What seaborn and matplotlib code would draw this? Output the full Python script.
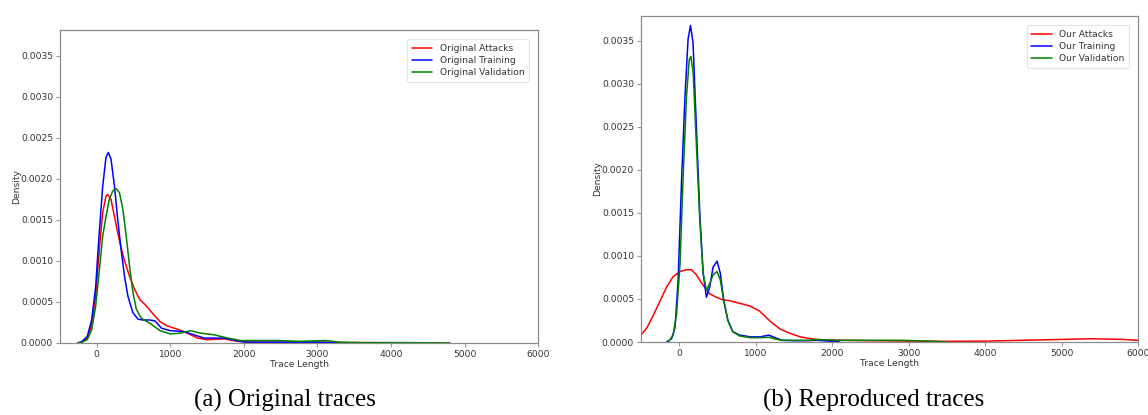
import matplotlib
matplotlib.use("Agg")
import matplotlib.pyplot as plt
import seaborn as sns

# Density of trace lengths, original dataset
orig_attacks_x = [-260, -200, -130, -70, -15, 30, 80, 125, 147, 193, 240, 285, 330, 377,
                  446, 515, 584, 676, 768, 860, 952, 1090, 1230, 1370, 1500, 1730, 1920,
                  2100, 2500, 3000, 3500, 4000, 4800]
orig_attacks_y = [0, 0.00001, 0.00006, 0.00022, 0.00057, 0.0011, 0.00159, 0.00179, 0.00181,
                  0.00175, 0.00154, 0.00134, 0.00116, 0.001, 0.00081, 0.00065, 0.00053,
                  0.00045, 0.00035, 0.00026, 0.00021, 0.00017, 0.00012, 0.00006, 0.00004,
                  0.00005, 0.00002, 0.00001, 0.00001, 0.00001, 0.000005, 0.000003, 0]

orig_training_x = [-260, -200, -130, -70, -15, 30, 80, 125, 156, 193, 240, 285, 330, 377,
                   423, 490, 560, 630, 720, 790, 880, 1000, 1180, 1320, 1460, 1730, 2010,
                   2500, 3000, 3300]
orig_training_y = [0, 0.00002, 0.00008, 0.00028, 0.00069, 0.0013, 0.00191, 0.00226, 0.00232,
                   0.00224, 0.00191, 0.0015, 0.00114, 0.00081, 0.00057, 0.00037, 0.00029,
                   0.00028, 0.00028, 0.00027, 0.00018, 0.00015, 0.00014, 0.0001, 0.00006,
                   0.00006, 0.00001, 0.00001, 0.00001, 0]

orig_validation_x = [-250, -200, -130, -70, -15, 30, 80, 125, 170, 216, 262, 308, 354, 400,
                     446, 492, 538, 607, 722, 860, 1000, 1136, 1274, 1412, 1595, 1780, 1960,
                     2200, 2470, 2750, 3110, 3300, 3600, 4200, 4800]
orig_validation_y = [0, 0.00001, 0.00004, 0.00016, 0.00045, 0.00085, 0.0013, 0.00154, 0.00175,
                     0.00185, 0.00188, 0.00183, 0.00163, 0.0013, 0.00093, 0.00061, 0.00041,
                     0.0003, 0.00024, 0.00015, 0.00011, 0.00012, 0.00015, 0.00012, 0.0001,
                     0.00006, 0.00003, 0.00003, 0.00003, 0.00002, 0.00003, 0.00001, 0.000005,
                     0.000005, 0]

# Density of trace lengths, reproduced dataset
our_attacks_x = [-500, -420, -340, -250, -165, -80, 10, 95, 160, 225, 310, 400, 485, 570,
                 660, 790, 920, 1050, 1190, 1320, 1450, 1580, 1710, 1840, 2100, 2500, 3000,
                 3500, 4000, 4500, 5000, 5400, 5800, 6000]
our_attacks_y = [0.00008, 0.00017, 0.00031, 0.00048, 0.00064, 0.00076, 0.00082, 0.00084,
                 0.00084, 0.00078, 0.00066, 0.00056, 0.00052, 0.00049, 0.00048, 0.00045,
                 0.00042, 0.00036, 0.00024, 0.00015, 0.0001, 0.00006, 0.00004, 0.000027,
                 0.00002, 0.000015, 0.00001, 0.000008, 0.00001, 0.00002, 0.00003, 0.000038,
                 0.00003, 0.00002]

our_training_x = [-165, -100, -55, -15, 30, 75, 115, 147, 180, 225, 268, 312, 355, 398, 442,
                  494, 537, 580, 636, 700, 790, 930, 1060, 1170, 1255, 1340, 1500, 1670, 1800,
                  1950, 2100]
our_training_y = [0, 0.00004, 0.00017, 0.00072, 0.00188, 0.00286, 0.00352, 0.00368, 0.00348,
                  0.00247, 0.0015, 0.0008, 0.00052, 0.00064, 0.00087, 0.00094, 0.0008,
                  0.00049, 0.00025, 0.00012, 0.00008, 0.00006, 0.00006, 0.00008, 0.00005,
                  0.00002, 0.000015, 0.000015, 0.00002, 0.00001, 0]

our_validation_x = [-145, -80, -35, 10, 52, 95, 130, 152, 182, 225, 268, 312, 355, 398, 442,
                    494, 537, 580, 636, 700, 790, 930, 1060, 1170, 1255, 1340, 1670, 1840,
                    2100, 2530, 2900, 3300, 3500]
our_validation_y = [0, 0.00008, 0.00033, 0.00091, 0.00196, 0.00286, 0.00328, 0.00332, 0.00313,
                    0.00227, 0.00142, 0.0008, 0.0006, 0.00068, 0.00078, 0.00082, 0.00072,
                    0.00049, 0.00025, 0.00012, 0.00007, 0.00005, 0.00005, 0.000055, 0.000035,
                    0.00002, 0.00002, 0.000027, 0.00002, 0.00002, 0.00002, 0.00001, 0]

x_ticks = [0, 1000, 2000, 3000, 4000, 5000, 6000]
y_ticks = [0.0, 0.0005, 0.0010, 0.0015, 0.0020, 0.0025, 0.0030, 0.0035]

sns.set_style("white")
plt.rcParams["font.family"] = ["DejaVu Sans"]
TXT = "#333333"
FS = 6.6

fig = plt.figure(figsize=(11.48, 4.15), dpi=100)
ax_a = fig.add_axes([0.0523, 0.1735, 0.4164, 0.754])
ax_b = fig.add_axes([0.5584, 0.1759, 0.4329, 0.7855])

panels = [
    (ax_a, [(orig_attacks_x, orig_attacks_y, "red", "Original Attacks"),
            (orig_training_x, orig_training_y, "blue", "Original Training"),
            (orig_validation_x, orig_validation_y, "green", "Original Validation")], 0.00381),
    (ax_b, [(our_attacks_x, our_attacks_y, "red", "Our Attacks"),
            (our_training_x, our_training_y, "blue", "Our Training"),
            (our_validation_x, our_validation_y, "green", "Our Validation")], 0.00379),
]

for ax, series, ytop in panels:
    for xs, ys, col, lab in series:
        sns.lineplot(x=xs, y=ys, color=col, label=lab, linewidth=1.1, ax=ax)
    ax.set_xlim(-500, 6000)
    ax.set_ylim(0, ytop)
    ax.set_xticks(x_ticks)
    ax.set_yticks(y_ticks)
    ax.set_yticklabels([f"{v:.4f}" for v in y_ticks])
    ax.tick_params(axis="both", labelsize=FS, colors=TXT, length=3, width=0.8,
                   color="#999999", bottom=True, left=True, pad=2)
    for sp in ax.spines.values():
        sp.set_color("#8c8c8c")
        sp.set_linewidth(0.9)
    ax.set_xlabel("Trace Length", fontsize=FS, color=TXT, labelpad=1)
    ax.set_ylabel("Density", fontsize=FS, color=TXT, labelpad=0)
    leg = ax.legend(loc="upper right", fontsize=FS, frameon=True, borderaxespad=1.0,
                    handlelength=2.2, labelspacing=0.35, borderpad=0.5)
    leg.get_frame().set_edgecolor("#dddddd")
    leg.get_frame().set_linewidth(0.8)
    for t in leg.get_texts():
        t.set_color(TXT)

fig.text(0.248, 0.036, "(a) Original traces", ha="center", va="center",
         fontsize=18, family=["Liberation Serif"], color="black")
fig.text(0.761, 0.036, "(b) Reproduced traces", ha="center", va="center",
         fontsize=18, family=["Liberation Serif"], color="black")

fig.savefig("out.png", dpi=100)
